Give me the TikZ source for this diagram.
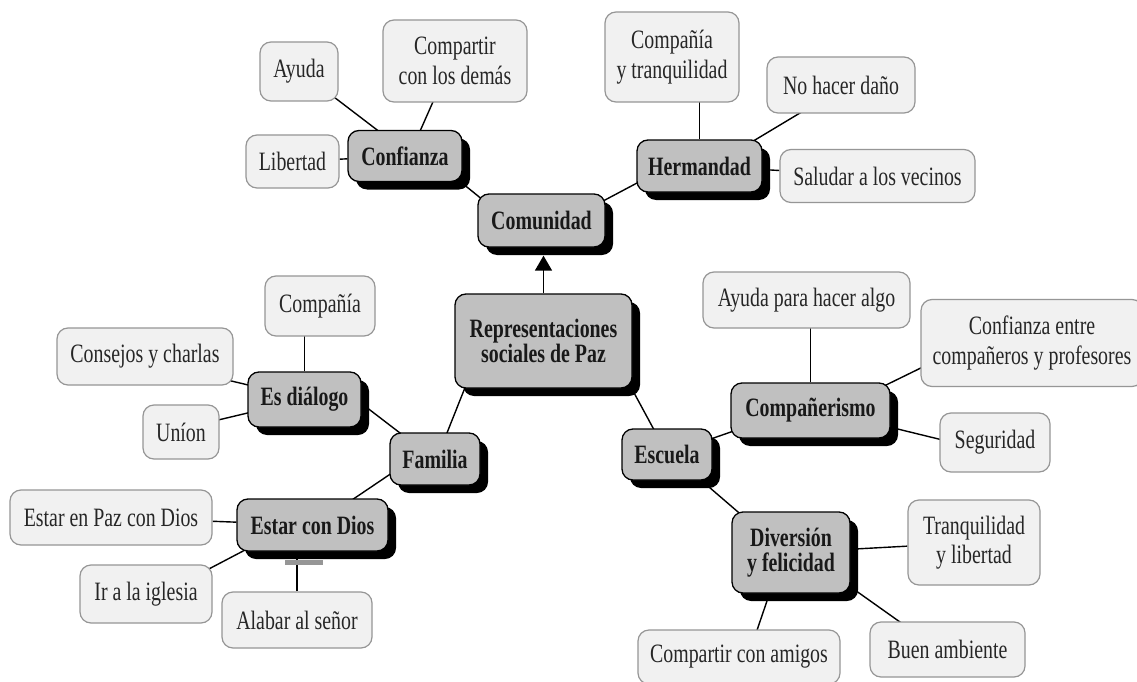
\documentclass[tikz,border=0pt]{standalone}
\usepackage{fontspec}
\setmainfont{Liberation Serif}[FakeStretch=0.75]
\usetikzlibrary{shadows,backgrounds,calc,arrows.meta}
\definecolor{nodegray}{RGB}{192,192,192}
\definecolor{lightfill}{RGB}{241,241,241}
\definecolor{bordergray}{RGB}{150,150,150}
\definecolor{bargray}{RGB}{150,150,150}
\tikzset{
  gnode/.style={draw=black, line width=1.3pt, fill=nodegray, rounded corners=11pt,
    font=\bfseries\fontsize{26.5}{25}\selectfont, align=center, inner sep=0pt, text=black!90,
    drop shadow={shadow xshift=8pt, shadow yshift=-8pt, fill=black, opacity=1}},
  lnode/.style={draw=bordergray, line width=1.2pt, fill=lightfill, rounded corners=11pt,
    font=\fontsize{26.5}{29.5}\selectfont, align=center, inner sep=0pt, text=black!85},
  link/.style={line width=1.4pt, black},
}
\begin{document}
\begin{tikzpicture}[x=1pt,y=-1pt]
\useasboundingbox (0,0) rectangle (1137,682);
% main (gray) nodes
\node[gnode, minimum width=127, minimum height=53] (com) at (541.5,220.5) {Comunidad};
\node[gnode, minimum width=114, minimum height=51] (conf) at (405,156) {Confianza};
\node[gnode, minimum width=125, minimum height=52] (herm) at (699.5,166) {Hermandad};
\node[gnode, minimum width=177, minimum height=94] (rep) at (543.5,341) {Representaciones\\sociales de Paz};
\node[gnode, minimum width=113, minimum height=55] (dia) at (304.5,399.5) {Es diálogo};
\node[gnode, minimum width=90, minimum height=52] (fam) at (435,459) {Familia};
\node[gnode, minimum width=151, minimum height=52] (dios) at (312.5,525) {Estar con Dios};
\node[gnode, minimum width=90, minimum height=51] (esc) at (667,454.5) {Escuela};
\node[gnode, minimum width=159, minimum height=55] (comp) at (810.5,410.5) {Compañerismo};
\node[gnode, minimum width=118, minimum height=81] (div) at (791,552.5) {Diversión\\y felicidad};
% leaf (light) nodes
\node[lnode, minimum width=78, minimum height=59] (ayuda) at (299,71.5) {Ayuda};
\node[lnode, minimum width=144, minimum height=82] (compd) at (455,61) {Compartir\\con los demás};
\node[lnode, minimum width=93, minimum height=53] (lib) at (292.5,161.5) {Libertad};
\node[lnode, minimum width=134, minimum height=90] (compt) at (672,57) {Compañía\\y tranquilidad};
\node[lnode, minimum width=148, minimum height=56] (dano) at (841,85) {No hacer daño};
\node[lnode, minimum width=195, minimum height=53] (salu) at (877.5,176) {Saludar a los vecinos};
\node[lnode, minimum width=110, minimum height=60] (compl) at (320,306) {Compañía};
\node[lnode, minimum width=176, minimum height=57] (cons) at (145,356.5) {Consejos y charlas};
\node[lnode, minimum width=76, minimum height=54] (union) at (181,432) {Uníon};
\node[lnode, minimum width=202, minimum height=55] (paz) at (111,517.5) {Estar en Paz con Dios};
\node[lnode, minimum width=132, minimum height=58] (igl) at (146,594) {Ir a la iglesia};
\node[lnode, minimum width=150, minimum height=56] (alab) at (297,620) {Alabar al señor};
\node[lnode, minimum width=207, minimum height=56] (ayh) at (806.5,300) {Ayuda para hacer algo};
\node[lnode, minimum width=222, minimum height=87] (confe) at (1032,343) {Confianza entre\\compañeros y profesores};
\node[lnode, minimum width=110, minimum height=59] (seg) at (995,442.5) {Seguridad};
\node[lnode, minimum width=132, minimum height=85] (tranq) at (974,542.5) {Tranquilidad\\y libertad};
\node[lnode, minimum width=155, minimum height=55] (buen) at (947.5,649.5) {Buen ambiente};
\node[lnode, minimum width=202, minimum height=54] (amig) at (739,657) {Compartir con amigos};
% connectors
\begin{scope}[on background layer]
\fill[white] (0,0) rectangle (1137,682);
\draw[link] ($(conf)+(49,20.5)$) -- ($(com)+(-55.5,-18)$);
\draw[link] ($(herm)+(-54.5,12.75)$) -- ($(com)+(55.5,-16.25)$);
\draw[link] ($(conf)+(-20,-20)$) -- ($(ayuda)+(31,22.5)$);
\draw[link] ($(conf)+(12,-18)$) -- ($(compd)+(-19,34)$);
\draw[link] (lib) -- (conf);
\draw[link] (herm) -- (herm |- compt);
\draw[link] ($(herm)+(46.5,-20.6)$) -- ($(dano)+(-32,22.6)$);
\draw[link] (herm) -- (salu);
\draw[link] ($(rep)+(-71.3,28.5)$) -- ($(fam)+(4.8,-8)$);
\draw[link] ($(rep)+(82.5,37)$) -- ($(esc)+(-8.6,-16.6)$);
\draw[link] ($(dia)+(50.5,-1)$) -- ($(fam)+(-29,-21.4)$);
\draw[link] ($(fam)+(-36,9.2)$) -- ($(dios)+(30.5,-19)$);
\draw[link] (dia) -- (dia |- compl);
\draw[link] ($(cons)+(80,23)$) -- ($(dia)+(-49.5,-12.9)$);
\draw[link] ($(union)+(33,-11)$) -- ($(dia)+(-48.5,11.5)$);
\draw[link] (paz) -- (dios);
\draw[link] ($(igl)+(59,-23)$) -- ($(dios)+(-66.5,24.5)$);
\draw[link] (alab) -- (alab |- dios);
\draw[link] ($(esc)+(38,-13.5)$) -- ($(comp)+(-70.5,18.3)$);
\draw[link] ($(esc)+(35,26.5)$) -- ($(div)+(-46,-34.5)$);
\draw[link] (comp) -- (comp |- ayh);
\draw[link] ($(comp)+(73.5,-24.5)$) -- ($(confe)+(-102,20.5)$);
\draw[link] ($(comp)+(69.5,14.2)$) -- ($(seg)+(-45,-0.7)$);
\draw[link] (div) -- (tranq);
\draw[link] ($(div)+(54,30.5)$) -- ($(buen)+(-39.5,-21.8)$);
\draw[link] ($(div)+(-23,45.5)$) -- ($(amig)+(15,-18)$);
\end{scope}
% arrow to Comunidad
\draw[link, -{Triangle[length=15pt, width=17pt]}, shorten >=8pt] (rep.north) -- (rep.north |- com.south);
% gray bar under Estar con Dios
\fill[bargray] ($(dios.south)+(-27.5,8)$) rectangle ($(dios.south)+(10.5,13)$);
\end{tikzpicture}
\end{document}
